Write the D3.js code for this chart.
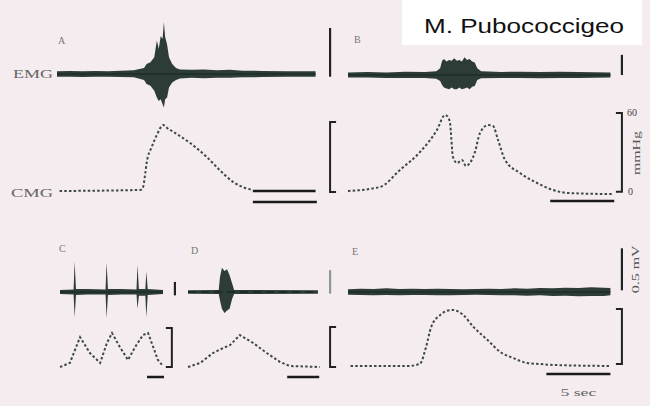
<!DOCTYPE html>
<html><head><meta charset="utf-8">
<script src="https://cdn.jsdelivr.net/npm/d3@7"></script>
<style>html,body{margin:0;padding:0;background:#f4ecee;}svg{display:block;}</style>
</head><body>
<script>
// ---------- DATA (time in s, EMG in mV [t, upper, lower], CMG in mmHg [t, p]) ----------
const title = "M. Pubococcigeo";
const panelLetters = ["A", "B", "C", "D", "E"];
const traceLabels = ["EMG", "CMG"];
const pressureTicks = ["60", "0"];
const pressureUnit = "mmHg";
const voltageLabel = "0.5 mV";
const timeLabel = "5 sec";
const timeBarSeconds = 5;

const emgA = [[0,.032,.032],[1,.036,.032],[2,.032,.036],[3,.036,.032],[4,.032,.032],[5,.04,.036],[6,.045,.04],[6.8,.07,.07],[7.0,.12,.12],[7.3,.14,.14],[7.6,.2,.2],[7.8,.4,.28],[7.95,.3,.32],[8.1,.45,.3],[8.25,.42,.36],[8.35,.62,.4],[8.45,.44,.3],[8.6,.35,.28],[8.75,.2,.16],[9.0,.12,.1],[9.3,.07,.07],[9.6,.055,.055],[10.5,.05,.045],[11.5,.055,.05],[12.5,.045,.045],[13.5,.05,.045],[14.5,.04,.04],[16,.036,.036],[18,.032,.032],[20.2,.032,.032]];
const cmgA = [[0.2,0],[6.5,0.8],[6.7,2.3],[6.9,13.5],[7.0,21],[7.4,33],[7.8,42],[8.3,49.5],[8.6,47.3],[9.1,44.3],[10.4,36],[11.7,25.5],[12.7,15.8],[13.75,6.8],[14.7,2.3],[15.3,0.8]];

const emgB = [[0,.03,.03],[1.5,.036,.03],[3,.03,.036],[4.5,.04,.036],[6,.036,.036],[6.9,.045,.045],[7.2,.08,.07],[7.35,.17,.12],[7.5,.19,.15],[7.7,.16,.16],[7.9,.18,.17],[8.1,.17,.15],[8.3,.2,.17],[8.5,.17,.17],[8.7,.18,.15],[8.9,.16,.17],[9.1,.21,.16],[9.3,.18,.15],[9.5,.19,.17],[9.7,.16,.14],[9.9,.15,.13],[10.1,.08,.06],[10.4,.045,.04],[12,.036,.036],[13.5,.04,.036],[15,.036,.04],[16.5,.04,.036],[18,.036,.036],[20.5,.03,.03]];
const cmgB = [[0,1.5],[2.5,4.5],[4.06,17.3],[5.63,30.8],[6.95,47.3],[7.58,58.5],[7.81,57],[7.97,52.5],[8.2,27],[8.52,22.5],[8.9,24.8],[9.22,20.3],[9.53,22.5],[9.92,30.8],[10.31,45],[10.94,51],[11.33,50.3],[11.72,39.8],[12.27,24.8],[13.44,15],[14.77,7.5],[16,2.3],[17.2,0],[20.6,-0.8]];

const emgC = [[0,.025,.025],[4.0,.03,.03],[4.3,.36,.3],[4.7,.035,.035],[8,.035,.03],[13.4,.03,.03],[13.7,.35,.31],[14.1,.035,.035],[18,.035,.03],[22.5,.03,.03],[22.8,.32,.2],[23.2,.035,.045],[25.1,.035,.045],[25.4,.24,.30],[25.8,.035,.035],[30.3,.025,.025]];
const cmgC = [[0,0],[2.9,6.2],[5.9,46],[8.8,21.5],[11.8,6.2],[13.8,36.9],[15.3,52.3],[17.6,30.8],[20,10.8],[22.1,30.8],[24.4,49.2],[25.9,52.3],[27.4,30.8],[28.8,10.8],[30.3,1.5]];

const emgD = [[0,.02,.02],[4.8,.025,.025],[5.0,.18,.1],[5.3,.29,.2],[5.7,.25,.25],[6.1,.27,.22],[6.5,.2,.2],[6.9,.1,.08],[7.2,.025,.025],[20.3,.02,.02]];
const cmgD = [[0,0],[1.9,6.2],[3.9,21.5],[5.5,29.2],[6.6,33.8],[8.1,49.2],[10.2,36.9],[12.3,21.5],[14.4,7.7],[15.9,1.5],[20.6,0]];

const emgE = [[0,.032,.032],[1,.04,.036],[2,.036,.04],[3,.044,.036],[4,.036,.04],[5,.04,.036],[6,.036,.036],[7,.04,.04],[8,.036,.04],[9,.032,.036],[10,.036,.032],[11,.04,.036],[12,.036,.04],[13,.044,.04],[14,.04,.044],[15,.048,.04],[16,.044,.048],[17,.052,.044],[18,.048,.052],[19,.056,.048],[20,.052,.048],[20.5,.048,.04]];
const cmgE = [[0.2,0],[4.6,0],[5.6,1.5],[6.1,14.3],[6.5,29.3],[7.2,38.3],[7.7,41.3],[8.2,42],[9.0,38.3],[9.8,29.3],[10.9,19.5],[11.9,10.5],[12.9,6],[14.0,2.3],[15.0,1.5],[16.0,0.8],[20.5,0]];

// ---------- LAYOUT ----------
const W = 650, H = 406;
const ink = "#1c2d27";
const svg = d3.select("body").append("svg").attr("width", W).attr("height", H);
svg.append("rect").attr("width", W).attr("height", H).attr("fill", "#f4ecee");

const layout = {
  A: {x0: 57,  pxs: 12.8, emgY: 74,  cmgY: 191, eg: 84, cg: 1.333, curve: d3.curveMonotoneX},
  B: {x0: 348, pxs: 12.8, emgY: 75,  cmgY: 193, eg: 84, cg: 1.333, curve: d3.curveMonotoneX},
  C: {x0: 60,  pxs: 3.4,  emgY: 292, cmgY: 367, eg: 84, cg: 0.65, curve: d3.curveLinear},
  D: {x0: 188, pxs: 6.4,  emgY: 292, cmgY: 367, eg: 84, cg: 0.65, curve: d3.curveLinear},
  E: {x0: 348, pxs: 12.8, emgY: 292, cmgY: 366, eg: 84, cg: 1.333, curve: d3.curveMonotoneX}
};
const sc = {};
for (const k of Object.keys(layout)) {
  const p = layout[k];
  sc[k] = {
    x: d3.scaleLinear().domain([0, 1]).range([p.x0, p.x0 + p.pxs]),
    e: d3.scaleLinear().domain([0, 1]).range([p.emgY, p.emgY - p.eg]),
    c: d3.scaleLinear().domain([0, 1]).range([p.cmgY, p.cmgY - p.cg]),
    curve: p.curve
  };
}

function drawEMG(k, data, dashed) {
  const s = sc[k];
  svg.append("path").datum(data)
    .attr("d", d3.area().x(d => s.x(d[0])).y0(d => s.e(-d[2])).y1(d => s.e(d[1])))
    .attr("fill", ink).attr("opacity", 0.92);
  svg.append("path").datum(data)
    .attr("d", d3.line().x(d => s.x(d[0])).y(() => s.e(0)))
    .attr("fill", "none").attr("stroke", ink).attr("stroke-width", dashed ? 2 : 1.5)
    .attr("stroke-dasharray", dashed ? "8,5" : null);
}
function drawCMG(k, data) {
  const s = sc[k];
  svg.append("path").datum(data)
    .attr("d", d3.line().x(d => s.x(d[0])).y(d => s.c(d[1])).curve(s.curve))
    .attr("fill", "none").attr("stroke", ink).attr("stroke-width", 2)
    .attr("stroke-dasharray", "2.5,2.2").attr("opacity", 0.85);
}
function vbar(k, scale, t, a, b, color) {
  const s = sc[k];
  svg.append("line").attr("x1", s.x(t)).attr("x2", s.x(t))
    .attr("y1", s[scale](a)).attr("y2", s[scale](b))
    .attr("stroke", color || "#222").attr("stroke-width", 2.2);
}
function bracket(k, t, a, b, dir) {
  const s = sc[k], x = s.x(t), tk = dir * 6;
  svg.append("path")
    .attr("d", `M${x + tk},${s.c(a)}H${x}V${s.c(b)}H${x + tk}`)
    .attr("fill", "none").attr("stroke", "#222").attr("stroke-width", 2);
}
function tbar(k, t, p, dur) {
  const s = sc[k];
  svg.append("line").attr("x1", s.x(t)).attr("x2", s.x(t + dur))
    .attr("y1", s.c(p)).attr("y2", s.c(p))
    .attr("stroke", "#1a1a1a").attr("stroke-width", 2.5);
}

// traces
drawEMG("A", emgA); drawCMG("A", cmgA);
drawEMG("B", emgB); drawCMG("B", cmgB);
drawEMG("C", emgC); drawCMG("C", cmgC);
drawEMG("D", emgD, true); drawCMG("D", cmgD);
drawEMG("E", emgE); drawCMG("E", cmgE);

// scale marks
tbar("A", 15.3, 0, 4.9);
tbar("A", 15.3, -8.3, timeBarSeconds);
vbar("B", "e", -1.4, -0.02, 0.56);
bracket("B", -1.4, 0.75, 53.3, 1);
vbar("B", "e", 21.4, 0, 0.24);
bracket("B", 21.4, 1, 60, -1);
tbar("B", 15.8, -6, timeBarSeconds);
vbar("C", "e", 33.8, -0.04, 0.12);
bracket("C", 32.9, 0, 60, -1);
tbar("C", 25.6, -15.4, timeBarSeconds);
tbar("D", 15.5, -15.4, timeBarSeconds);
vbar("E", "e", -1.4, -0.02, 0.26, "#8a9a96");
bracket("E", -1.4, -0.75, 29.3, 1);
vbar("E", "e", 21.4, 0.02, 0.52);
bracket("E", 21.4, 1.5, 42.8, -1);
tbar("E", 15.5, -6, timeBarSeconds);

// texts
const serif = "'Liberation Serif','DejaVu Serif',serif";
const txt = (x, y, s, o = {}) => {
  const t = svg.append("text").attr("x", x).attr("y", y).text(s)
    .attr("font-family", o.ff || serif).attr("font-size", o.fs || 10)
    .attr("fill", o.fill || "#555").attr("text-anchor", o.anchor || "start");
  if (o.tl) t.attr("textLength", o.tl).attr("lengthAdjust", "spacingAndGlyphs");
  if (o.rot) t.attr("transform", `rotate(-90,${x},${y})`);
  return t;
};
const letterPos = [[58, 44], [354, 43], [59, 252], [191, 254], [352, 255]];
panelLetters.forEach((l, i) => txt(letterPos[i][0], letterPos[i][1], l, {fs: 10, fill: "#777"}));
txt(13, 78, traceLabels[0], {fs: 12, tl: 40, fill: "#666"});
txt(11, 197, traceLabels[1], {fs: 12, tl: 42, fill: "#666"});

const sB = sc.B;
txt(sB.x(21.4) + 5, sB.c(60) + 3, pressureTicks[0], {fs: 10, fill: "#444"});
txt(sB.x(21.4) + 6, sB.c(0) + 2, pressureTicks[1], {fs: 10, fill: "#444"});
txt(sB.x(21.4) + 18, sB.c(30), pressureUnit, {fs: 10, fill: "#555", anchor: "middle", rot: true, tl: 44});
const sE = sc.E;
txt(sE.x(21.4) + 17, sE.e(0.27), voltageLabel, {fs: 11, fill: "#555", anchor: "middle", rot: true, tl: 48});
txt(sE.x(15.5 + timeBarSeconds / 2), sE.c(-6) + 22, timeLabel, {fs: 10, fill: "#666", anchor: "middle", tl: 36});

// title box
svg.append("rect").attr("x", 402).attr("y", 0).attr("width", 240).attr("height", 45).attr("fill", "#ffffff");
txt(424, 33, title, {ff: "'Liberation Sans',Arial,sans-serif", fs: 21, fill: "#111", tl: 200});
</script>
</body></html>
